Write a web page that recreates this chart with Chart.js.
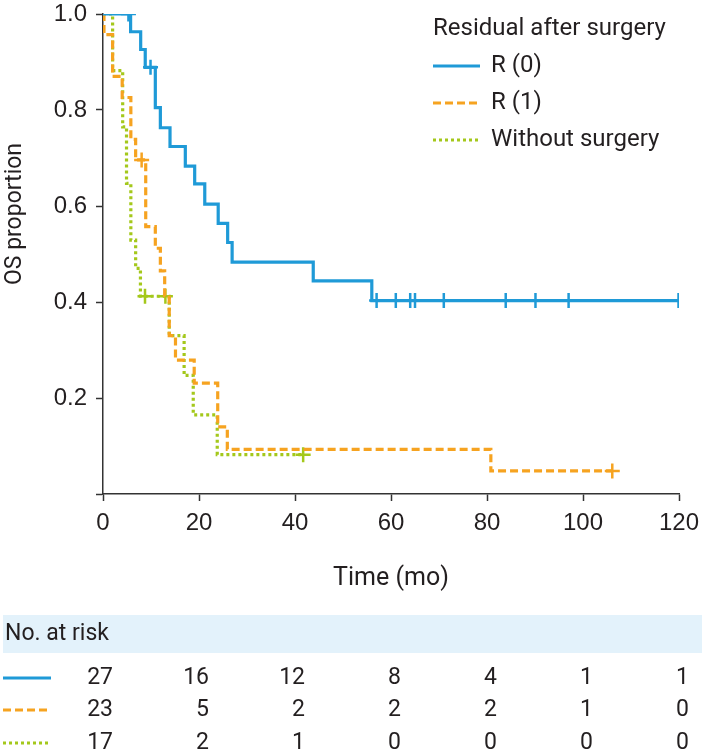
<!DOCTYPE html>
<html>
<head>
<meta charset="utf-8">
<script src="https://cdn.jsdelivr.net/npm/chart.js@4.4.0/dist/chart.umd.min.js"></script>
<style>
  html, body { margin: 0; padding: 0; background: #fff; }
</style>
</head>
<body>
<canvas id="kmChart" width="702" height="753"></canvas>
<script>
// Kaplan-Meier steps: [time (mo), OS proportion]
const r0Steps = [[0,1],[5.75,0.963],[7.85,0.926],[8.8,0.889],[10.9,0.805],[11.95,0.763],[13.96,0.724],
  [17.15,0.683],[19.1,0.646],[21.2,0.604],[24.0,0.564],[25.97,0.524],[26.9,0.483],[43.8,0.444],
  [56.0,0.403],[120,0.403]];
const r0Censored = [[5.3,1],[9.9,0.889],[57,0.403],[61,0.403],[64,0.403],[65,0.403],[71,0.403],
  [83.9,0.403],[90.1,0.403],[97,0.403],[119.9,0.403]];

const r1Steps = [[0,1],[0.2,0.957],[2.0,0.870],[4.0,0.826],[5.8,0.739],[6.8,0.696],[8.9,0.557],
  [10.9,0.512],[11.95,0.465],[12.85,0.413],[13.8,0.330],[15.1,0.279],[19.0,0.231],[23.9,0.140],
  [25.9,0.093],[80.8,0.048],[106.1,0.048]];
const r1Censored = [[8.05,0.696],[106.1,0.048]];

const noSurgSteps = [[0,1],[2.0,0.882],[4.1,0.765],[4.9,0.647],[5.8,0.529],[6.8,0.470],[7.8,0.412],
  [13.8,0.330],[16.9,0.247],[18.8,0.165],[23.8,0.082],[41.7,0.082]];
const noSurgCensored = [[8.75,0.412],[13.0,0.412],[41.7,0.082]];

// Number at risk table
const riskTimes = [0, 20, 40, 60, 80, 100, 120];
const riskR0 = [27, 16, 12, 8, 4, 1, 1];
const riskR1 = [23, 5, 2, 2, 2, 1, 0];
const riskNoSurg = [17, 2, 1, 0, 0, 0, 0];

const groupNames = ['R (0)', 'R (1)', 'Without surgery'];
const legendTitle = 'Residual after surgery';
const yTitle = 'OS proportion';

const BLUE = '#1f9ad7';
const ORANGE = '#f6a320';
const GREEN = '#a4c81b';
const TEXT = '#231f20';

const toXY = arr => arr.map(p => ({ x: p[0], y: p[1] }));

function stepSet(label, steps, color, dash) {
  return {
    label: label,
    data: toXY(steps),
    borderColor: color,
    borderWidth: 3.2,
    borderDash: dash,
    stepped: true,
    pointRadius: 0,
    fill: false
  };
}

function censorSet(label, pts, color) {
  return {
    label: label,
    data: toXY(pts),
    showLine: false,
    pointStyle: 'cross',
    pointRadius: 7.5,
    pointBorderWidth: 2.5,
    pointBorderColor: color,
    pointBackgroundColor: color
  };
}

const groups = [
  { color: BLUE, dash: [], risk: riskR0 },
  { color: ORANGE, dash: [8, 4], risk: riskR1 },
  { color: GREEN, dash: [3, 3], risk: riskNoSurg }
];

function sampleLine(ctx, g, x1, x2, y) {
  ctx.save();
  ctx.strokeStyle = g.color;
  ctx.lineWidth = 3;
  ctx.setLineDash(g.dash);
  ctx.beginPath();
  ctx.moveTo(x1, y);
  ctx.lineTo(x2, y);
  ctx.stroke();
  ctx.restore();
}

// legend, y title and the risk table
const extrasPlugin = {
  id: 'extras',
  afterDraw(chart) {
    const ctx = chart.ctx;
    const xs = chart.scales.x;
    ctx.save();
    ctx.fillStyle = TEXT;
    ctx.textBaseline = 'middle';

    // y axis title
    ctx.save();
    ctx.font = '23px Roboto';
    ctx.textAlign = 'center';
    ctx.translate(15, 214);
    ctx.rotate(-Math.PI / 2);
    ctx.fillText(yTitle, 0, 0);
    ctx.restore();

    ctx.font = '24px Roboto';
    ctx.textAlign = 'left';
    ctx.fillText(legendTitle, 433, 29);
    const legY = [66, 103, 140];
    groups.forEach((g, i) => {
      sampleLine(ctx, g, 433, 480, legY[i]);
      ctx.fillStyle = TEXT;
      ctx.fillText(groupNames[i], 491, legY[i]);
    });

    // No. at risk
    ctx.font = '23px Roboto';
    ctx.fillStyle = '#e3f2fb';
    ctx.fillRect(3, 615, 699, 38);
    ctx.fillStyle = TEXT;
    ctx.fillText('No. at risk', 5, 634);
    const rowY = [678, 710, 743];
    groups.forEach((g, i) => {
      sampleLine(ctx, g, 3, 51, rowY[i]);
      ctx.fillStyle = TEXT;
      ctx.textAlign = 'right';
      g.risk.forEach((n, j) => {
        ctx.fillText(String(n), xs.getPixelForValue(riskTimes[j]) + 10, rowY[i]);
      });
      ctx.textAlign = 'left';
    });
    ctx.restore();
  }
};

Chart.defaults.font.family = 'Roboto';
Chart.defaults.color = TEXT;

new Chart(document.getElementById('kmChart'), {
  type: 'line',
  data: {
    datasets: [
      stepSet(groupNames[0], r0Steps, BLUE, []),
      censorSet('R0 censored', r0Censored, BLUE),
      stepSet(groupNames[1], r1Steps, ORANGE, [8, 4]),
      censorSet('R1 censored', r1Censored, ORANGE),
      stepSet(groupNames[2], noSurgSteps, GREEN, [3, 3]),
      censorSet('No surgery censored', noSurgCensored, GREEN)
    ]
  },
  options: {
    responsive: false,
    animation: false,
    layout: { padding: { top: 14, right: 23, left: 0, bottom: 159 } },
    plugins: {
      legend: { display: false },
      tooltip: { enabled: false }
    },
    scales: {
      x: {
        type: 'linear',
        min: 0,
        max: 120,
        afterFit: s => { s.height = 100; s.paddingLeft = 0; s.paddingRight = 0; },
        ticks: {
          stepSize: 20,
          padding: 8,
          color: TEXT,
          font: { family: 'Liberation Sans', size: 24 }
        },
        grid: { drawOnChartArea: false, drawTicks: true, tickLength: 7, tickColor: '#333', tickWidth: 1.5 },
        border: { display: true, color: '#333', width: 1.5 },
        title: {
          display: true,
          text: 'Time (mo)',
          color: TEXT,
          font: { size: 25 },
          padding: { top: 4, bottom: 0 }
        }
      },
      y: {
        min: 0,
        max: 1,
        afterFit: s => { s.width = 103; s.paddingTop = 0; s.paddingBottom = 0; },
        ticks: {
          stepSize: 0.2,
          padding: 9,
          color: TEXT,
          font: { family: 'Liberation Sans', size: 24 },
          callback: v => (v === 0 ? '' : v.toFixed(1))
        },
        grid: { drawOnChartArea: false, drawTicks: true, tickLength: 7, tickColor: '#333', tickWidth: 1.5 },
        border: { display: true, color: '#333', width: 1.5 }
      }
    }
  },
  plugins: [extrasPlugin]
});
</script>
</body>
</html>
